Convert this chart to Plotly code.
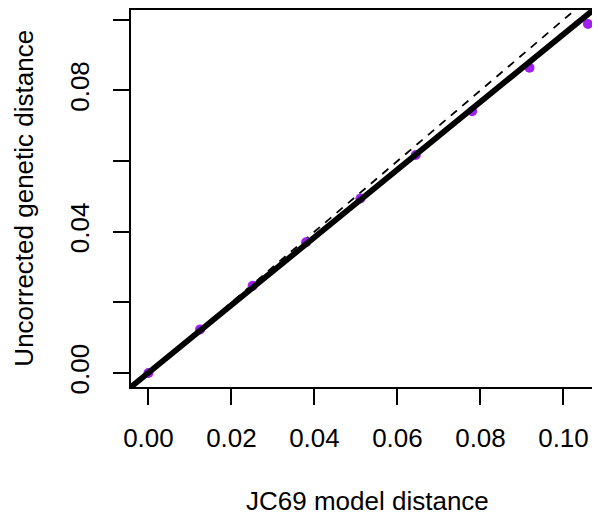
import plotly.graph_objects as go

# Data
jc69_dist = [0.0, 0.01245, 0.02511, 0.03798, 0.05108, 0.06442, 0.07799, 0.09182, 0.1059]
uncorr_dist = [0.0, 0.01235, 0.02469, 0.03704, 0.04938, 0.06173, 0.07407, 0.08642, 0.09877]

fit_intercept = 0.0001
fit_slope = 0.958

x_range = [-0.0042, 0.1088]
y_range = [-0.00395, 0.10275]

x_ticks = [0.0, 0.02, 0.04, 0.06, 0.08, 0.10]
x_ticktext = ["0.00", "0.02", "0.04", "0.06", "0.08", "0.10"]
y_ticks = [0.0, 0.02, 0.04, 0.06, 0.08, 0.10]
y_ticktext = ["0.00", "", "0.04", "", "0.08", ""]

FONT = "Liberation Sans, Arial, Helvetica, sans-serif"

fig = go.Figure()

# identity line (dashed)
fig.add_trace(go.Scatter(
    x=x_range, y=x_range, mode="lines",
    line=dict(color="black", width=1.8, dash="8px,7px"),
    hoverinfo="skip", showlegend=False))

# points
fig.add_trace(go.Scatter(
    x=jc69_dist, y=uncorr_dist, mode="markers",
    marker=dict(color="#A020F0", size=10, line=dict(width=0)),
    showlegend=False, cliponaxis=False))

# thick fitted line
fig.add_trace(go.Scatter(
    x=x_range, y=[fit_intercept + fit_slope * v for v in x_range], mode="lines",
    line=dict(color="black", width=5.8),
    hoverinfo="skip", showlegend=False))

# page body has an 8px margin, so the figure is 8px smaller and shifted
fig.update_layout(
    width=592, height=504,
    margin=dict(l=123, r=0, t=0, b=125),
    paper_bgcolor="white", plot_bgcolor="white",
    font=dict(family=FONT, size=26, color="black"),
    xaxis=dict(range=x_range, tickvals=x_ticks, ticktext=x_ticktext,
               showgrid=False, zeroline=False, showline=True, mirror=True,
               linecolor="black", linewidth=2,
               ticks="outside", ticklen=16, tickwidth=2, tickcolor="black",
               ticklabelstandoff=11,
               tickfont=dict(family=FONT, size=26, color="black")),
    yaxis=dict(range=y_range, tickvals=y_ticks, ticktext=y_ticktext,
               showgrid=False, zeroline=False, showline=True, mirror=False,
               linecolor="black", linewidth=2,
               ticks="outside", ticklen=16, tickwidth=2, tickcolor="black",
               tickangle=-90, ticklabelstandoff=14,
               tickfont=dict(family=FONT, size=26, color="black")),
    annotations=[
        dict(text="JC69 model distance", xref="paper", yref="paper",
             x=0.5046, y=-0.302, xanchor="center", yanchor="middle",
             showarrow=False, font=dict(family=FONT, size=26, color="black")),
        dict(text="Uncorrected genetic distance", xref="paper", yref="paper",
             x=-0.230, y=0.5, xanchor="center", yanchor="middle", textangle=-90,
             showarrow=False, font=dict(family=FONT, size=26, color="black")),
    ],
)

fig.write_html("out.html")
